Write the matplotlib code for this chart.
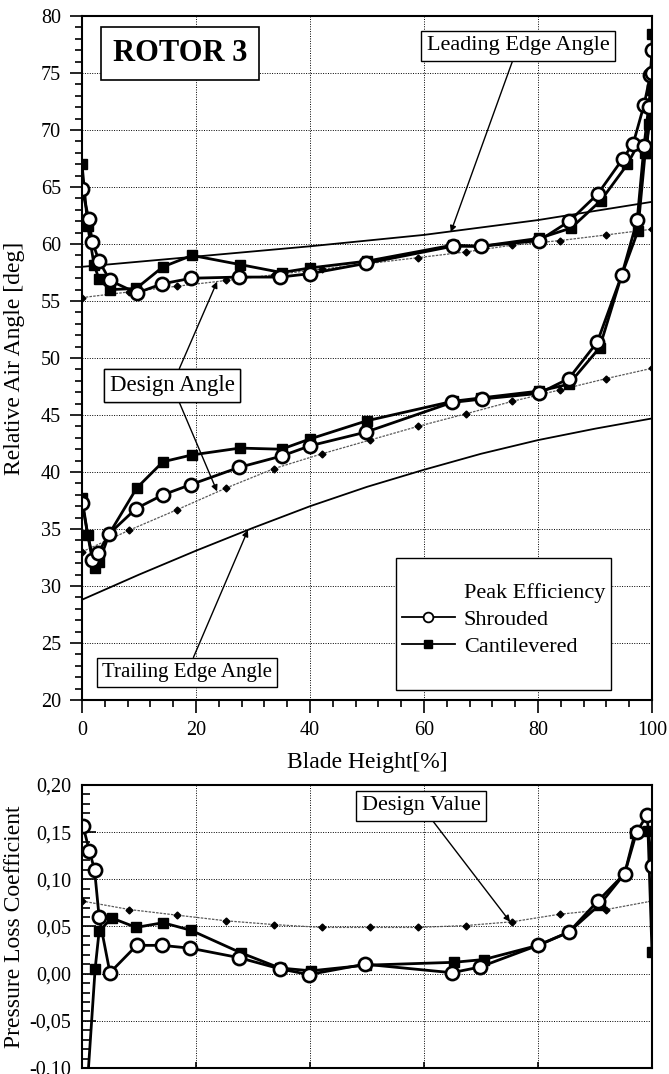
import matplotlib.pyplot as plt
from matplotlib.lines import Line2D
from matplotlib.ticker import MultipleLocator

plt.rcParams['font.family'] = ['Liberation Serif', 'DejaVu Serif']

# relative air angle - upper branch (inlet)
shr_in_x = [0, 1.2, 1.8, 3.0, 4.9, 9.6, 14.0, 19.2, 27.5, 34.8, 40.0, 49.8, 65.0, 70.0,
            80.2, 85.5, 90.5, 94.9, 96.7, 98.6, 99.7, 100]
shr_in_y = [64.8, 62.2, 60.2, 58.5, 56.8, 55.7, 56.5, 57.0, 57.1, 57.1, 57.4, 58.3, 59.8, 59.8,
            60.3, 62.0, 64.4, 67.5, 68.8, 72.2, 74.8, 77.0]
cant_in_x = [0, 1.0, 2.1, 3.0, 4.9, 9.5, 14.2, 19.3, 27.7, 35.0, 40.0, 50.0, 65.0, 70.0,
             80.2, 85.8, 91.0, 95.7, 97.5, 99.0, 100, 100]
cant_in_y = [67.0, 61.6, 58.2, 56.9, 56.0, 56.1, 58.0, 59.0, 58.2, 57.5, 57.9, 58.5, 59.9, 59.8,
             60.5, 61.4, 63.8, 67.0, 68.7, 68.0, 73.6, 78.4]

# relative air angle - lower branch (outlet)
shr_out_x = [0, 1.8, 2.8, 4.8, 9.5, 14.2, 19.1, 27.5, 35.0, 40.0, 49.8, 64.9, 70.2, 80.2,
             85.4, 90.4, 94.7, 97.4, 98.6, 99.4, 100]
shr_out_y = [37.3, 32.3, 32.9, 34.6, 36.8, 38.0, 38.9, 40.4, 41.4, 42.3, 43.5, 46.1, 46.4, 46.9,
             48.2, 51.4, 57.3, 62.1, 68.6, 72.0, 75.0]
cant_out_x = [0, 1.0, 2.3, 3.0, 4.8, 9.6, 14.2, 19.3, 27.7, 35.0, 40.0, 50.0, 65.0, 70.0,
              80.2, 85.4, 90.8, 94.7, 97.5, 98.8, 99.5, 100]
cant_out_y = [37.7, 34.5, 31.6, 32.1, 34.6, 38.6, 40.9, 41.5, 42.1, 42.0, 42.9, 44.5, 46.2, 46.5,
              47.1, 47.7, 50.9, 57.3, 61.1, 68.0, 70.5, 73.5]

# design angles and blade metal angles
design_x = [0, 8.3, 16.7, 25.3, 33.7, 42.1, 50.5, 58.9, 67.3, 75.5, 83.8, 92.0, 100]
design_in = [55.3, 55.8, 56.3, 56.8, 57.3, 57.8, 58.3, 58.8, 59.3, 59.9, 60.3, 60.8, 61.3]
design_out = [33.0, 34.9, 36.7, 38.6, 40.3, 41.6, 42.8, 44.0, 45.1, 46.2, 47.2, 48.2, 49.1]
le_x = [0, 20, 40, 60, 80, 100]
le_y = [58.0, 58.9, 59.8, 60.8, 62.1, 63.7]
te_x = [0, 10, 20, 30, 40, 50, 60, 70, 80, 90, 100]
te_y = [28.8, 31.0, 33.1, 35.1, 37.0, 38.7, 40.2, 41.6, 42.8, 43.8, 44.7]

# pressure loss coefficient
shr_loss_x = [0.2, 1.3, 2.2, 3.0, 4.9, 9.6, 14.0, 19.0, 27.5, 34.8, 39.8, 49.6, 64.9, 69.8,
              80.0, 85.4, 90.5, 95.2, 97.3, 99.1, 100]
shr_loss_y = [0.156, 0.130, 0.110, 0.060, 0.001, 0.030, 0.030, 0.027, 0.017, 0.005, -0.001, 0.010,
              0.001, 0.007, 0.030, 0.044, 0.077, 0.106, 0.150, 0.168, 0.114]
cant_loss_x = [0.8, 2.3, 3.0, 5.2, 9.5, 14.2, 19.1, 27.9, 34.7, 40.2, 49.8, 65.2, 70.5, 80.0,
               85.4, 90.8, 95.2, 97.0, 99.3, 100]
cant_loss_y = [-0.13, 0.005, 0.045, 0.059, 0.049, 0.054, 0.046, 0.022, 0.006, 0.003, 0.009, 0.012,
               0.015, 0.030, 0.044, 0.073, 0.106, 0.149, 0.151, 0.023]
design_loss = [0.077, 0.068, 0.062, 0.056, 0.052, 0.049, 0.049, 0.049, 0.051, 0.055, 0.063, 0.068, 0.077]

loss_ticks = [-0.10, -0.05, 0.00, 0.05, 0.10, 0.15, 0.20]
loss_labels = ['-0,10', '-0,05', '0,00', '0,05', '0,10', '0,15', '0,20']

fig = plt.figure(figsize=(6.69, 10.74), dpi=100)
ax1 = fig.add_axes([0.1226, 0.3482, 0.852, 0.6369])
ax2 = fig.add_axes([0.1226, 0.0056, 0.852, 0.2635])

shr_style = dict(color='k', lw=2.0, marker='o', ms=9.5, mfc='white', mec='k', mew=1.9)
cant_style = dict(color='k', lw=2.0, marker='s', ms=7.5, mfc='k', mec='k')
design_style = dict(color='0.35', lw=0.9, ls=(0, (2, 1)), marker='D', ms=3.5, mfc='k', mec='k')
grid_style = dict(color='k', lw=0.7, ls=(0, (1, 1.5)))
box = dict(boxstyle='square,pad=0.25', fc='white', ec='k', lw=1.0)
arrow = dict(arrowstyle='-|>', color='k', lw=1.0, mutation_scale=9, shrinkA=0, shrinkB=0)

# ---- upper plot ----
ax1.plot(le_x, le_y, color='k', lw=1.3)
ax1.plot(te_x, te_y, color='k', lw=1.3)
ax1.plot(design_x, design_in, **design_style)
ax1.plot(design_x, design_out, **design_style)
ax1.plot(cant_in_x, cant_in_y, **cant_style)
ax1.plot(cant_out_x, cant_out_y, **cant_style)
ax1.plot(shr_in_x, shr_in_y, **shr_style)
ax1.plot(shr_out_x, shr_out_y, **shr_style)

ax1.set_xlim(0, 100)
ax1.set_ylim(20, 80)
ax1.xaxis.set_major_locator(MultipleLocator(20))
ax1.xaxis.set_minor_locator(MultipleLocator(4))
ax1.yaxis.set_major_locator(MultipleLocator(5))
ax1.yaxis.set_minor_locator(MultipleLocator(1))
ax1.tick_params(which='both', direction='out', labelsize=14.5, width=1.2, pad=6)
ax1.tick_params(which='major', length=9)
ax1.tick_params(which='minor', length=5)
ax1.grid(True, which='major', **grid_style)
ax1.set_xlabel('Blade Height[%]', fontsize=17, labelpad=9)
ax1.set_ylabel('Relative Air Angle [deg]', fontsize=17)
ax1.yaxis.set_label_coords(-0.1, 0.5)

ax1.text(17.2, 76.7, 'ROTOR 3', fontsize=22, fontweight='bold', ha='center', va='center',
         bbox=dict(boxstyle='square,pad=0.4', fc='white', ec='k', lw=1.2))
ax1.annotate('Leading Edge Angle', xy=(64.7, 61.05), xytext=(76.5, 77.4), fontsize=16,
             ha='center', va='center', bbox=box, arrowprops=arrow)
ax1.annotate('Design Angle', xy=(23.7, 56.7), xytext=(15.8, 47.6), fontsize=16.5,
             ha='center', va='center', bbox=box, arrowprops=arrow)
ax1.annotate('Design Angle', xy=(23.7, 38.3), xytext=(15.8, 47.6), fontsize=16.5,
             ha='center', va='center', bbox=box, arrowprops=arrow)
ax1.annotate('Trailing Edge Angle', xy=(29.1, 34.9), xytext=(18.4, 22.4), fontsize=15,
             ha='center', va='center', bbox=box, arrowprops=arrow)

blank = Line2D([], [], ls='none')
h_shr = Line2D([], [], color='k', lw=1.3, marker='o', ms=7, mfc='white', mec='k', mew=1.3)
h_cant = Line2D([], [], color='k', lw=1.3, marker='s', ms=6, mfc='k', mec='k')
leg = ax1.legend([blank, h_shr, h_cant, blank], ['Peak Efficiency', 'Shrouded', 'Cantilevered', ' '],
                 loc='upper left', bbox_to_anchor=(0.551, 0.2076), borderaxespad=0,
                 fontsize=16, handlelength=2.4, handletextpad=0.4, labelspacing=0.3,
                 borderpad=0.25, fancybox=False, framealpha=1, edgecolor='k',
                 title=' ', title_fontsize=9)
leg.get_frame().set_linewidth(1.0)

# ---- lower plot ----
ax2.plot(design_x, design_loss, **design_style)
ax2.plot(cant_loss_x, cant_loss_y, **cant_style)
ax2.plot(shr_loss_x, shr_loss_y, **shr_style)

ax2.set_xlim(0, 100)
ax2.set_ylim(-0.10, 0.20)
ax2.xaxis.set_major_locator(MultipleLocator(20))
ax2.set_yticks(loss_ticks, loss_labels)
ax2.yaxis.set_minor_locator(MultipleLocator(0.01))
ax2.tick_params(which='both', direction='in', labelsize=14.5, width=1.2, labelbottom=False, pad=8)
ax2.tick_params(axis='y', which='major', length=10)
ax2.tick_params(axis='y', which='minor', length=6)
ax2.tick_params(axis='x', which='major', length=4)
ax2.grid(True, which='major', **grid_style)
ax2.set_ylabel('Pressure Loss Coefficient', fontsize=17)
ax2.yaxis.set_label_coords(-0.1, 0.5)

ax2.annotate('Design Value', xy=(75.1, 0.055), xytext=(59.5, 0.178), fontsize=16,
             ha='center', va='center', bbox=box, arrowprops=arrow)

for ax in (ax1, ax2):
    for s in ax.spines.values():
        s.set_linewidth(1.5)

fig.savefig('out.png', dpi=100)
